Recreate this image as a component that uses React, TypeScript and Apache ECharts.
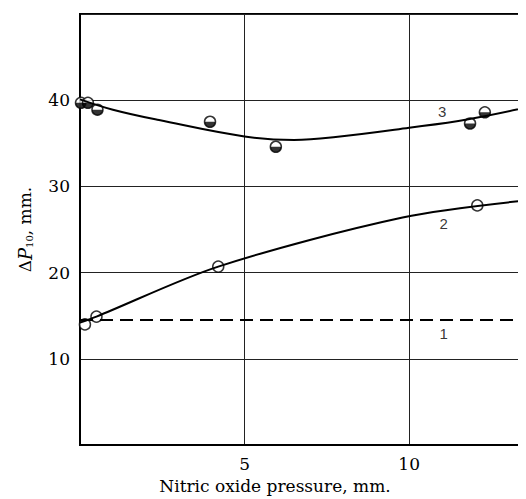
import React, { useEffect, useRef } from "react";
import * as echarts from "echarts";

// Curve 3 (half-filled circles)
const series3Points: [number, number][] = [
  [0.03, 39.7], [0.24, 39.7], [0.53, 38.9], [3.95, 37.5], [5.95, 34.6], [11.85, 37.3], [12.3, 38.6],
];
const curve3: [number, number][] = [
  [0, 40.1], [1, 38.9], [2.4, 37.7], [5, 35.8], [6.5, 35.4], [7.7, 35.7], [10, 36.8], [11.8, 37.8], [13.6, 39.2],
];
// Curve 2 (open circles)
const series2Points: [number, number][] = [
  [0.15, 14.0], [0.5, 14.9], [4.2, 20.7], [12.07, 27.8],
];
const curve2: [number, number][] = [
  [0, 14.2], [0.5, 14.9], [4.2, 20.7], [9.8, 26.4], [13.6, 28.4],
];
// Curve 1 (dashed level)
const line1: [number, number][] = [[0, 14.5], [13.6, 14.5]];
// Curve labels
const curveLabels: [number, number, string][] = [
  [11.0, 38.7, "3"],
  [11.05, 25.7, "2"],
  [11.05, 12.9, "1"],
];
const xTicks = [5, 10];
const yTicks = [10, 20, 30, 40];

const SERIF = "'DejaVu Serif', 'Liberation Serif', serif";

export default function App() {
  const ref = useRef<HTMLDivElement>(null);
  useEffect(() => {
    if (!ref.current) return;
    const chart = echarts.init(ref.current, null, { renderer: "svg" });
    chart.setOption({
      animation: false,
      backgroundColor: "#fff",
      grid: {
        left: 62, top: 6, bottom: 53, right: -2,
        show: true, borderColor: "#000", borderWidth: 2,
      },
      xAxis: {
        type: "value", min: 0, max: 13.55, interval: 5,
        name: "Nitric oxide pressure, mm.",
        nameLocation: "middle", nameGap: 27,
        nameTextStyle: { fontFamily: SERIF, fontSize: 17, color: "#000", padding: [0, 56, 0, 0] },
        axisLine: { lineStyle: { color: "#000", width: 2 } },
        axisTick: { show: false },
        axisLabel: {
          fontFamily: SERIF, fontSize: 17, color: "#000", margin: 10,
          formatter: (v: number) => (xTicks.includes(v) ? String(v) : ""),
          showMinLabel: false, showMaxLabel: false,
        },
        splitLine: { show: true, lineStyle: { color: "#222", width: 1 } },
      },
      yAxis: {
        type: "value", min: 0, max: 50, interval: 10,
        name: "{d|Δ}{p|P}{s|10}{d|, mm.}",
        nameLocation: "middle", nameGap: 46, nameRotate: 90,
        nameTextStyle: {
          fontFamily: SERIF, fontSize: 17, color: "#000",
          rich: {
            d: { fontFamily: SERIF, fontSize: 17, color: "#000" },
            p: { fontFamily: SERIF, fontSize: 18, fontStyle: "italic", color: "#000" },
            s: { fontFamily: SERIF, fontSize: 10, color: "#000", verticalAlign: "bottom", lineHeight: 12 },
          },
        },
        axisLine: { show: true, lineStyle: { color: "#000", width: 2 } },
        axisTick: { show: false },
        axisLabel: {
          fontFamily: SERIF, fontSize: 17, color: "#000", margin: 10,
          formatter: (v: number) => (yTicks.includes(v) ? String(v) : ""),
          showMinLabel: false, showMaxLabel: false,
        },
        splitLine: { show: true, lineStyle: { color: "#222", width: 1 } },
      },
      series: [
        {
          type: "line", data: line1, showSymbol: false, silent: true,
          lineStyle: { color: "#000", width: 2, type: [13, 7] },
        },
        {
          type: "line", data: curve2, smooth: 0.3, showSymbol: false, silent: true,
          lineStyle: { color: "#000", width: 2 },
        },
        {
          type: "line", data: curve3, smooth: 0.4, showSymbol: false, silent: true,
          lineStyle: { color: "#000", width: 2 },
        },
        {
          type: "scatter", data: series2Points, symbol: "circle", symbolSize: 11,
          itemStyle: { color: "#fff", borderColor: "#000", borderWidth: 1.5 },
        },
        {
          type: "scatter", data: series3Points, symbol: "circle", symbolSize: 11,
          itemStyle: { color: "#fff", borderColor: "#000", borderWidth: 1.5 },
        },
        {
          type: "scatter", data: series3Points,
          symbol: "path://M0 0 A10 10 0 0 0 20 0 Z", symbolKeepAspect: true,
          symbolSize: 11, symbolOffset: [0, "25%"],
          itemStyle: { color: "#000" },
        },
        {
          type: "scatter",
          data: curveLabels.map((d) => ({ value: [d[0], d[1]], name: d[2] })),
          symbolSize: 0,
          label: {
            show: true, position: "inside", formatter: (p: any) => p.name,
            fontFamily: "'Liberation Sans', sans-serif", fontSize: 15, color: "#000",
          },
        },
      ],
    });
    return () => chart.dispose();
  }, []);
  return <div ref={ref} style={{ width: 518, height: 491 }} />;
}
